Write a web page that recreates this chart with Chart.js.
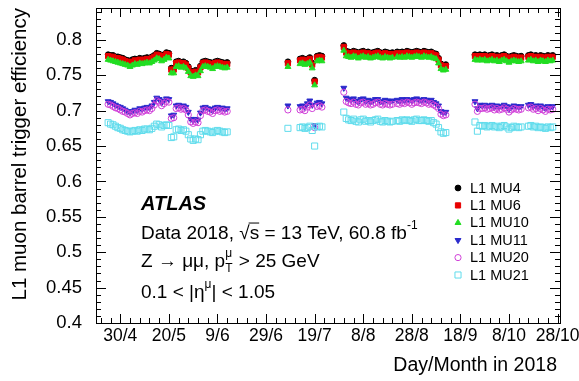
<!DOCTYPE html>
<html lang="en">
<head>
<meta charset="UTF-8">
<title>L1 muon barrel trigger efficiency</title>
<style>
  body { margin: 0; background: #fff; }
  canvas { display: block; }
</style>
</head>
<body>
<canvas id="effChart" width="579" height="381"></canvas>
<script src="https://cdn.jsdelivr.net/npm/chart.js"></script>
<script>
// day of year 2018 for each run
const days = [
  115,116,117,118,119,120,121,122,123,124,125,126,127,128,129,130,131,132,133,134,135,136,137,138,139,140,141,
  142,143,144,145,146,147,148,149,150,151,152,153,154,155,156,157,158,159,160,161,162,163,164,
  189,194,195,196,197,198,199,200,201,202,203,
  212,213,214,215,216,217,218,219,220,221,222,223,224,225,226,227,228,229,230,231,232,
  234,235,236,237,238,239,240,241,242,243,244,245,246,247,248,249,250,251,252,253,254,
  266,267,268,269,270,271,272,273,274,275,276,277,278,279,280,281,282,283,284,285,
  288,289,290,291,292,293,294,295,296,297,298
];

const mu4 = [
  .779,.778,.778,.776,.776,.775,.774,.772,.771,.770,.772,.773,.772,.774,.773,.774,.775,.774,.776,.778,.781,.780,.777,.779,.782,.781,.760,
  .760,.769,.770,.768,.769,.767,.762,.756,.755,.757,.756,.763,.769,.770,.769,.768,.766,.769,.770,.769,.768,.767,.768,
  .769,.773,.774,.772,.773,.775,.767,.743,.777,.778,.777,
  .792,.784,.783,.782,.784,.783,.781,.783,.784,.782,.783,.781,.782,.783,.784,.782,.781,.783,.782,.781,.782,
  .783,.782,.783,.782,.784,.783,.782,.783,.784,.783,.782,.784,.783,.782,.783,.781,.780,.774,.766,.764,.765,
  .779,.778,.779,.778,.779,.777,.778,.779,.777,.778,.776,.778,.779,.777,.775,.777,.778,.777,.776,.777,
  .778,.779,.777,.778,.776,.778,.777,.776,.778,.777,.778
];

const mu6 = [
  .777,.776,.776,.774,.774,.773,.772,.770,.769,.768,.769,.771,.770,.772,.771,.772,.773,.772,.774,.776,.779,.778,.775,.777,.780,.779,.758,
  .758,.767,.768,.766,.767,.765,.760,.754,.753,.755,.754,.761,.767,.768,.767,.766,.764,.767,.768,.767,.766,.765,.766,
  .767,.771,.772,.770,.771,.773,.765,.741,.775,.776,.775,
  .790,.782,.781,.780,.782,.781,.779,.781,.782,.780,.781,.779,.780,.781,.782,.780,.779,.781,.780,.779,.780,
  .781,.780,.781,.780,.782,.781,.780,.781,.782,.781,.780,.782,.781,.780,.781,.779,.778,.772,.764,.762,.763,
  .777,.776,.777,.776,.777,.775,.776,.777,.775,.776,.774,.776,.777,.775,.773,.775,.776,.775,.774,.775,
  .776,.777,.775,.776,.774,.776,.775,.774,.776,.775,.776
];

const mu10 = [
  .772,.771,.770,.769,.768,.767,.766,.765,.764,.762,.764,.766,.765,.767,.766,.767,.768,.767,.769,.771,.774,.773,.770,.772,.775,.774,.753,
  .753,.762,.763,.761,.762,.760,.755,.749,.748,.750,.749,.756,.762,.763,.762,.761,.759,.762,.763,.762,.761,.760,.761,
  .762,.766,.767,.765,.766,.768,.760,.736,.770,.771,.770,
  .785,.777,.776,.775,.777,.776,.774,.776,.777,.775,.776,.774,.775,.776,.777,.775,.774,.776,.775,.774,.775,
  .776,.775,.776,.775,.777,.776,.775,.776,.777,.776,.775,.777,.776,.775,.776,.774,.773,.767,.759,.757,.758,
  .772,.771,.772,.771,.772,.770,.771,.772,.770,.771,.769,.771,.772,.770,.768,.770,.771,.770,.769,.770,
  .771,.772,.770,.771,.769,.771,.770,.769,.771,.770,.771
];

const mu11 = [
  .713,.712,.710,.708,.706,.705,.703,.701,.699,.697,.699,.701,.700,.703,.702,.704,.705,.704,.707,.712,.718,.716,.711,.714,.717,.716,.693,
  .694,.707,.708,.706,.707,.705,.698,.688,.686,.688,.687,.697,.704,.705,.703,.702,.700,.704,.705,.703,.704,.702,.703,
  .707,.706,.707,.705,.710,.714,.708,.679,.711,.712,.710,
  .732,.718,.716,.715,.717,.714,.712,.716,.717,.713,.715,.712,.714,.716,.716,.713,.712,.715,.714,.713,.714,
  .715,.713,.716,.714,.716,.715,.714,.716,.717,.715,.714,.716,.715,.713,.715,.712,.710,.707,.699,.697,.698,
  .713,.703,.708,.707,.708,.706,.707,.708,.705,.707,.705,.706,.708,.706,.702,.705,.707,.706,.705,.706,
  .708,.709,.706,.707,.704,.707,.705,.703,.706,.705,.706
];

const mu20 = [
  .709,.708,.706,.704,.703,.701,.699,.698,.696,.694,.696,.697,.696,.699,.698,.700,.701,.700,.703,.708,.714,.712,.707,.710,.713,.712,.689,
  .690,.703,.704,.702,.703,.701,.694,.684,.682,.684,.683,.693,.700,.701,.699,.698,.696,.700,.701,.699,.700,.698,.699,
  .701,.701,.702,.700,.705,.708,.703,.676,.706,.707,.705,
  .726,.713,.711,.710,.712,.709,.708,.711,.712,.709,.710,.708,.709,.711,.712,.709,.708,.710,.709,.708,.709,
  .710,.709,.711,.710,.712,.711,.709,.711,.712,.711,.710,.712,.711,.709,.710,.708,.706,.703,.695,.693,.694,
  .709,.699,.703,.703,.704,.702,.703,.704,.701,.703,.701,.702,.704,.702,.698,.701,.703,.702,.701,.702,
  .704,.705,.702,.703,.700,.703,.701,.699,.702,.701,.702
];

const mu21 = [
  .683,.681,.680,.678,.676,.675,.673,.672,.671,.670,.671,.672,.671,.673,.672,.674,.674,.673,.675,.678,.681,.680,.677,.679,.680,.679,.662,
  .663,.673,.674,.672,.673,.671,.666,.660,.658,.660,.659,.666,.671,.672,.671,.670,.669,.671,.672,.671,.670,.669,.670,
  .675,.676,.677,.675,.676,.678,.672,.650,.677,.678,.677,
  .698,.689,.687,.686,.688,.685,.684,.687,.688,.685,.686,.684,.686,.687,.688,.685,.684,.686,.685,.684,.685,
  .686,.685,.687,.686,.687,.686,.685,.687,.688,.686,.686,.687,.686,.685,.686,.683,.681,.676,.670,.668,.669,
  .684,.671,.679,.678,.679,.677,.678,.679,.677,.678,.676,.678,.679,.677,.674,.676,.678,.677,.676,.677,
  .678,.679,.677,.678,.676,.677,.676,.675,.677,.676,.677
];

const seriesNames = ['L1 MU4', 'L1 MU6', 'L1 MU10', 'L1 MU11', 'L1 MU20', 'L1 MU21'];
const xTickDays = [120, 140, 160, 180, 200, 220, 240, 260, 280, 300];
const xTickLabels = ['30/4', '20/5', '9/6', '29/6', '19/7', '8/8', '28/8', '18/9', '8/10', '28/10'];
const yTicks = [0.4, 0.45, 0.5, 0.55, 0.6, 0.65, 0.7, 0.75, 0.8];
const yTickLabels = ['0.4', '0.45', '0.5', '0.55', '0.6', '0.65', '0.7', '0.75', '0.8'];

const FONT = '"Liberation Sans", Arial, Helvetica, sans-serif';

// marker styles, ROOT-like
const styles = [
  { pointStyle: 'circle',   radius: 2.9, rotation: 0,   fill: '#000000', stroke: '#000000' },
  { pointStyle: 'rect',     radius: 3.7, rotation: 0,   fill: '#e80000', stroke: '#e80000' },
  { pointStyle: 'triangle', radius: 3.4, rotation: 0,   fill: '#22dd22', stroke: '#22dd22' },
  { pointStyle: 'triangle', radius: 3.4, rotation: 180, fill: '#2a2acc', stroke: '#2a2acc' },
  { pointStyle: 'circle',   radius: 3.1, rotation: 0,   fill: 'rgba(0,0,0,0)', stroke: '#d040d8' },
  { pointStyle: 'rect',     radius: 4.3, rotation: 0,   fill: 'rgba(0,0,0,0)', stroke: '#60dcec' }
];
const values = [mu4, mu6, mu10, mu11, mu20, mu21];

const datasets = values.map((vals, i) => ({
  label: seriesNames[i],
  data: days.map((d, j) => ({ x: d, y: vals[j] })),
  showLine: false,
  pointStyle: styles[i].pointStyle,
  pointRadius: styles[i].radius,
  pointRotation: styles[i].rotation,
  pointBackgroundColor: styles[i].fill,
  pointBorderColor: styles[i].stroke,
  pointBorderWidth: 1,
  order: 5 - i
}));

// frame with inward ticks on all four sides
const framePlugin = {
  id: 'frame',
  afterDraw(chart) {
    const { ctx, chartArea: a, scales } = chart;
    const xs = scales.x, ys = scales.y;
    ctx.save();
    ctx.strokeStyle = '#000';
    ctx.lineWidth = 1;
    ctx.strokeRect(a.left + 0.5, a.top + 0.5, a.right - a.left, a.bottom - a.top);
    ctx.beginPath();
    for (let d = 112; d <= 300; d += 4) {
      const px = Math.round(xs.getPixelForValue(d)) + 0.5;
      const len = (d % 20 === 0) ? 9 : 5;
      ctx.moveTo(px, a.bottom); ctx.lineTo(px, a.bottom - len);
      ctx.moveTo(px, a.top); ctx.lineTo(px, a.top + len);
    }
    for (let k = 40; k <= 84; k++) {
      const py = Math.round(ys.getPixelForValue(k / 100)) + 0.5;
      const len = (k % 5 === 0) ? 10 : 5;
      ctx.moveTo(a.left, py); ctx.lineTo(a.left + len, py);
      ctx.moveTo(a.right, py); ctx.lineTo(a.right - len, py);
    }
    ctx.stroke();
    ctx.restore();
  }
};

function drawRich(ctx, x, y, parts, size) {
  let cx = x;
  parts.forEach(p => {
    if (p.supsub) {
      ctx.font = Math.round(size * 0.66) + 'px ' + FONT;
      const w1 = ctx.measureText(p.supsub[0]).width;
      const w2 = ctx.measureText(p.supsub[1]).width;
      ctx.fillText(p.supsub[0], cx, y - size * 0.45);
      ctx.fillText(p.supsub[1], cx, y + size * 0.38);
      cx += Math.max(w1, w2) + 1;
      return;
    }
    const s = p.sup ? size * 0.66 : size;
    ctx.font = Math.round(s) + 'px ' + FONT;
    const dy = p.sup ? -size * 0.45 : 0;
    ctx.fillText(p.t, cx, y + dy);
    const w = ctx.measureText(p.t).width;
    if (p.over) {
      ctx.fillRect(cx - 1, y - size * 0.62, w + 1, 1);
    }
    cx += w;
  });
}

const textPlugin = {
  id: 'labels',
  afterDraw(chart) {
    const ctx = chart.ctx;
    ctx.save();
    ctx.fillStyle = '#000';
    ctx.textBaseline = 'middle';
    ctx.textAlign = 'left';

    ctx.font = 'italic bold 20px ' + FONT;
    ctx.fillText('ATLAS', 141, 204);

    drawRich(ctx, 141, 234, [
      { t: 'Data 2018, ' }, { t: '\u221A' }, { t: 's', over: true },
      { t: ' = 13 TeV, 60.8 fb' }, { t: '-1', sup: true }
    ], 18.5);
    drawRich(ctx, 141, 262, [
      { t: 'Z \u2192 \u03BC\u03BC, p' }, { supsub: ['\u03BC', 'T'] }, { t: ' > 25 GeV' }
    ], 18.5);
    drawRich(ctx, 141, 293, [
      { t: '0.1 < |\u03B7' }, { t: '\u03BC', sup: true }, { t: '| < 1.05' }
    ], 18.5);

    // legend
    const lx = 458, ly0 = 188, dy = 17.4;
    seriesNames.forEach((name, i) => {
      const st = styles[i];
      const y = ly0 + i * dy;
      ctx.fillStyle = st.fill;
      ctx.strokeStyle = st.stroke;
      ctx.lineWidth = 1;
      Chart.helpers.drawPoint(ctx, {
        pointStyle: st.pointStyle, radius: st.radius, rotation: st.rotation, borderWidth: 1
      }, lx, y);
      ctx.fillStyle = '#000';
      ctx.font = '14.5px ' + FONT;
      ctx.fillText(name, 470, y + 0.5);
    });

    // axis titles
    ctx.font = '19.5px ' + FONT;
    ctx.textAlign = 'right';
    ctx.fillText('Day/Month in 2018', 557, 366);
    ctx.save();
    ctx.font = '20.5px ' + FONT;
    ctx.translate(20, 8);
    ctx.rotate(-Math.PI / 2);
    ctx.textAlign = 'right';
    ctx.fillText('L1 muon barrel trigger efficiency', 0, 0);
    ctx.restore();
    ctx.restore();
  }
};

new Chart(document.getElementById('effChart'), {
  type: 'scatter',
  data: { datasets },
  options: {
    responsive: false,
    animation: false,
    layout: { padding: { top: 8, right: 19, left: 0, bottom: 0 } },
    plugins: { legend: { display: false }, tooltip: { enabled: false } },
    scales: {
      x: {
        type: 'linear', position: 'bottom', min: 110, max: 301,
        grid: { display: false }, border: { display: false },
        afterBuildTicks: s => { s.ticks = xTickDays.map(v => ({ value: v })); },
        afterFit: s => { s.height = 58; s.paddingLeft = 0; s.paddingRight = 0; },
        ticks: {
          autoSkip: false, maxRotation: 0, padding: -5, color: '#000',
          font: { family: FONT, size: 17.5 },
          callback: v => xTickLabels[xTickDays.indexOf(v)]
        }
      },
      y: {
        type: 'linear', min: 0.4, max: 0.845,
        grid: { display: false }, border: { display: false },
        afterBuildTicks: s => { s.ticks = yTicks.map(v => ({ value: v })); },
        afterFit: s => { s.width = 96; s.paddingTop = 0; s.paddingBottom = 0; },
        ticks: {
          padding: 6, color: '#000',
          font: { family: FONT, size: 18.5 },
          callback: v => yTickLabels[yTicks.indexOf(v)]
        }
      }
    }
  },
  plugins: [framePlugin, textPlugin]
});
</script>
</body>
</html>
